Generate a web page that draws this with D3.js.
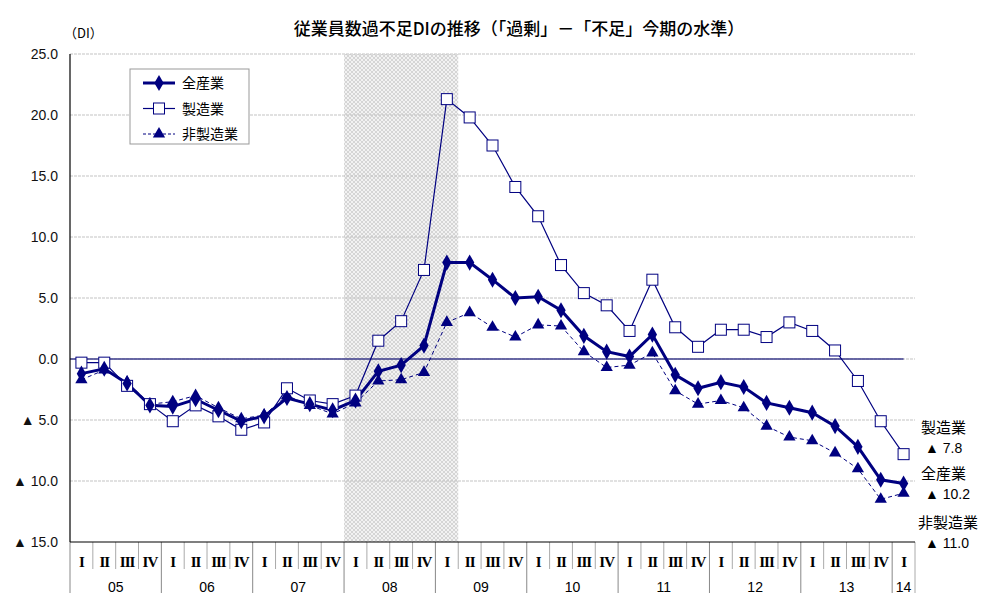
<!DOCTYPE html>
<html>
<head>
<meta charset="utf-8">
<script src="https://cdn.jsdelivr.net/npm/d3@7"></script>
<style>
 body{margin:0;background:#fff;}
 text{font-family:Arial,"Liberation Sans","Noto Sans CJK JP",sans-serif;}
 .jp{font-family:"Noto Sans CJK JP",sans-serif;}
 .roman{font-family:"Liberation Serif","DejaVu Serif",serif;}
</style>
</head>
<body>
<div id="chart"></div>
<script>
// 年・四半期 (05 I 〜 14 I)
var years = ["05","06","07","08","09","10","11","12","13","14"];
var quarterNames = ["I","II","III","IV"];
var periods = [];
years.forEach(function(y){ quarterNames.forEach(function(q){ periods.push(y+"-"+q); }); });
periods = periods.slice(0, 37);

// 全産業
var allIndustry = [-1.2,-0.8,-2.0,-3.8, -3.9,-3.3,-4.2,-5.1, -4.7,-3.2,-3.7,-4.2,
  -3.4,-1.0,-0.5,1.1, 7.9,7.9,6.5,5.0, 5.1,4.0,1.9,0.6, 0.2,2.0,-1.3,-2.4,
  -1.9,-2.3,-3.6,-4.0, -4.4,-5.5,-7.2,-9.9, -10.2];
// 製造業
var manufacturing = [-0.3,-0.3,-2.2,-3.7, -5.1,-3.8,-4.7,-5.8, -5.2,-2.4,-3.4,-3.7,
  -3.0,1.5,3.1,7.3, 21.3,19.8,17.5,14.1, 11.7,7.7,5.4,4.4, 2.3,6.5,2.6,1.0,
  2.4,2.4,1.8,3.0, 2.3,0.7,-1.8,-5.1, -7.8];
// 非製造業
var nonManufacturing = [-1.7,-0.9,-1.9,-3.7, -3.5,-3.0,-4.0,-4.9, -4.6,-3.0,-3.8,-4.5,
  -3.6,-1.8,-1.7,-1.1, 3.0,3.8,2.6,1.8, 2.8,2.7,0.6,-0.7, -0.5,0.5,-2.6,-3.7,
  -3.4,-4.0,-5.5,-6.4, -6.7,-7.7,-9.0,-11.5, -11.0];

var yTicks = [-15,-10,-5,0,5,10,15,20,25];
var shadeFrom = "08-I", shadeTo = "09-I";

var width = 1000, height = 605;
var svg = d3.select("#chart").append("svg").attr("width", width).attr("height", height);

var x = d3.scaleBand().domain(periods).range([70, 915]).padding(0);
var y = d3.scaleLinear().domain([-15, 25]).range([542, 54]);
var cx = function(p){ return x(p) + x.bandwidth()/2; };

// 網掛けパターン
var defs = svg.append("defs");
var pat = defs.append("pattern").attr("id","hatch").attr("width",4).attr("height",4)
  .attr("patternUnits","userSpaceOnUse");
pat.append("rect").attr("width",4).attr("height",4).attr("fill","#f2f2f2");
pat.append("path").attr("d","M0,0L4,4M4,0L0,4").attr("stroke","#c8c8c8").attr("stroke-width",0.7);

svg.append("rect")
  .attr("x", x(shadeFrom)).attr("y", y(25))
  .attr("width", x(shadeTo) + x.bandwidth() - x(shadeFrom))
  .attr("height", y(-15) - y(25))
  .attr("fill","url(#hatch)");

// グリッド
svg.append("g").selectAll("line").data(yTicks.filter(function(d){ return d > -15; }))
  .enter().append("line")
  .attr("x1",70).attr("x2",915)
  .attr("y1",function(d){ return y(d); }).attr("y2",function(d){ return y(d); })
  .attr("stroke","#c4c4c4").attr("stroke-width",1.2).attr("stroke-dasharray","3,1");

// ゼロ線
svg.append("line").attr("x1",70).attr("x2",cx(periods[36]))
  .attr("y1",y(0)).attr("y2",y(0)).attr("stroke","#3d3d8c").attr("stroke-width",1.5);

// 軸
svg.append("line").attr("x1",70).attr("x2",70).attr("y1",y(25)).attr("y2",y(-15))
  .attr("stroke","#000").attr("stroke-width",1.2);

// y 目盛
svg.append("g").selectAll("text").data(yTicks).enter().append("text")
  .attr("x",58).attr("y",function(d){ return y(d) + 5; })
  .attr("text-anchor","end").attr("font-size",14).attr("fill","#111")
  .text(function(d){ return d < 0 ? "▲ " + (-d).toFixed(1) : d.toFixed(1); });

svg.append("text").attr("x",64).attr("y",38).attr("font-size",13).attr("class","jp")
  .text("（DI）");

// x 軸 区切り線
var xg = svg.append("g");
periods.forEach(function(p, i){
  var isYear = i % 4 === 0;
  xg.append("line").attr("x1",x(p)).attr("x2",x(p))
    .attr("y1",y(-15)).attr("y2", isYear ? 593 : 569)
    .attr("stroke", isYear ? "#888" : "#aaa").attr("stroke-width",1);
  xg.append("text").attr("class","roman").attr("x",cx(p)).attr("y",567)
    .attr("text-anchor","middle").attr("font-size",15).attr("font-weight","bold")
    .attr("letter-spacing","-1")
    .text(p.split("-")[1]);
});
xg.append("line").attr("x1",915).attr("x2",915).attr("y1",y(-15)).attr("y2",593)
  .attr("stroke","#aaa");
years.forEach(function(yr){
  var ps = periods.filter(function(p){ return p.indexOf(yr+"-") === 0; });
  var x0 = x(ps[0]), x1 = x(ps[ps.length-1]) + x.bandwidth();
  xg.append("text").attr("x",(x0+x1)/2).attr("y",592)
    .attr("text-anchor","middle").attr("font-size",14).text(yr);
});
svg.append("line").attr("x1",70).attr("x2",915).attr("y1",y(-15)).attr("y2",y(-15))
  .attr("stroke","#000").attr("stroke-width",1.2);

// 系列
var navy = "#000080";
var line = d3.line().x(function(d,i){ return cx(periods[i]); }).y(function(d){ return y(d); });

svg.append("path").datum(nonManufacturing).attr("d",line).attr("fill","none")
  .attr("stroke",navy).attr("stroke-width",1).attr("stroke-dasharray","4,3");
svg.append("path").datum(manufacturing).attr("d",line).attr("fill","none")
  .attr("stroke",navy).attr("stroke-width",1.2);
svg.append("path").datum(allIndustry).attr("d",line).attr("fill","none")
  .attr("stroke",navy).attr("stroke-width",3);

var tri = d3.symbol().type(d3.symbolTriangle).size(65);
var dia = d3.symbol().type(d3.symbolDiamond).size(75);

svg.append("g").selectAll("path").data(nonManufacturing).enter().append("path")
  .attr("d",tri).attr("fill",navy)
  .attr("transform",function(d,i){ return "translate("+cx(periods[i])+","+y(d)+")"; });
svg.append("g").selectAll("rect").data(manufacturing).enter().append("rect")
  .attr("x",function(d,i){ return cx(periods[i]) - 5.5; })
  .attr("y",function(d){ return y(d) - 5.5; })
  .attr("width",11).attr("height",11)
  .attr("fill","#fff").attr("stroke",navy).attr("stroke-width",1);
svg.append("g").selectAll("path").data(allIndustry).enter().append("path")
  .attr("d",dia).attr("fill",navy)
  .attr("transform",function(d,i){ return "translate("+cx(periods[i])+","+y(d)+")"; });

// タイトル
svg.append("text").attr("x",519).attr("y",35).attr("text-anchor","middle")
  .attr("font-size",17).attr("font-weight",500).attr("class","jp")
  .text("従業員数過不足DIの推移（「過剰」－「不足」今期の水準）");

// 凡例
var lg = svg.append("g");
lg.append("rect").attr("x",130).attr("y",69).attr("width",119).attr("height",75)
  .attr("fill","#fff").attr("stroke","#999");
var legendItems = [
  {name:"全産業", w:3, dash:null, mark:"dia"},
  {name:"製造業", w:1.2, dash:null, mark:"sq"},
  {name:"非製造業", w:1, dash:"3,2", mark:"tri"}
];
legendItems.forEach(function(it, i){
  var ly = 83 + i*25.5;
  lg.append("line").attr("x1",143).attr("x2",175).attr("y1",ly).attr("y2",ly)
    .attr("stroke",navy).attr("stroke-width",it.w).attr("stroke-dasharray",it.dash);
  if(it.mark === "dia") lg.append("path").attr("d",dia).attr("fill",navy)
    .attr("transform","translate(159,"+ly+")");
  if(it.mark === "tri") lg.append("path").attr("d",tri).attr("fill",navy)
    .attr("transform","translate(159,"+ly+")");
  if(it.mark === "sq") lg.append("rect").attr("x",153.5).attr("y",ly-5.5)
    .attr("width",11).attr("height",11).attr("fill","#fff").attr("stroke",navy);
  lg.append("text").attr("x",182).attr("y",ly+5).attr("font-size",14).attr("class","jp")
    .text(it.name);
});

// 右端の最新値
var endLabels = [
  {name:"製造業", v:manufacturing[36], y:428},
  {name:"全産業", v:allIndustry[36], y:474},
  {name:"非製造業", v:nonManufacturing[36], y:523}
];
endLabels.forEach(function(e){
  svg.append("text").attr("x",e.name.length > 3 ? 918 : 921).attr("y",e.y+5)
    .attr("font-size",15).attr("class","jp").text(e.name);
  svg.append("text").attr("x",925).attr("y",e.y+25).attr("font-size",14)
    .text("▲ " + (-e.v).toFixed(1));
});
</script>
</body>
</html>
